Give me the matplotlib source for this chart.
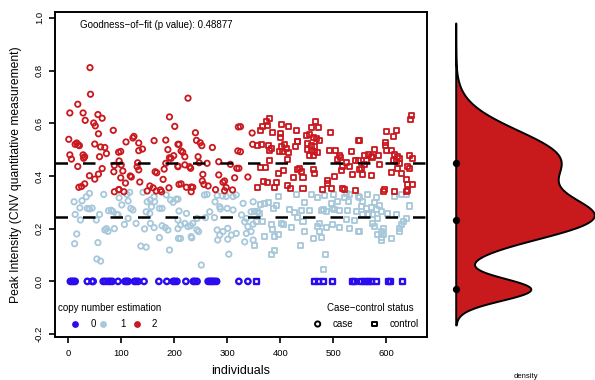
import numpy as np
import matplotlib
matplotlib.use("Agg")
import matplotlib.pyplot as plt

plt.rcParams['font.family'] = ['Liberation Sans', 'DejaVu Sans']

# individuals 1..n_cases are cases (circles), the rest controls (squares)
n_cases = 350

# copy number 2 (red)
cn2_ind = [41, 42, 18, 3, 28, 56, 32, 64, 48, 51, 57, 85, 1, 13, 16, 19, 21, 50, 61, 69,
           3, 6, 28, 31, 29, 72, 59, 95, 18, 64, 57, 87, 86, 40, 50, 31, 25, 20, 87, 95,
           191, 201, 124, 122, 109, 133, 140, 133, 162, 184, 188, 207, 99, 199, 194, 191,
           96, 100, 103, 131, 130, 133, 184, 181, 207, 164, 167, 179, 99, 117, 119, 108,
           135, 154, 160, 96, 105, 149, 166, 174, 176, 190, 209,
           226, 321, 240, 242, 249, 252, 272, 209, 213, 216, 220, 245, 320, 207, 220, 229,
           231, 247, 262, 284, 306, 318, 254, 253, 284, 292, 295, 314, 213, 223, 232, 235,
           232, 264, 278, 298, 295, 310, 256,
           325, 347, 325, 322, 357, 348, 339,
           379, 374, 366, 363, 376, 386, 403, 416, 400, 401, 430, 358, 364, 378, 383, 380,
           402, 408, 411, 404, 399, 415, 413, 432, 428, 379, 362, 372, 396, 406, 432, 426,
           369, 376, 393, 389, 413, 420,
           466, 459, 472, 494, 449, 455, 462, 468, 474, 433, 452, 459, 464, 452, 459, 465,
           471, 455, 463, 493, 504, 512, 514, 508, 535, 548, 525, 518, 515, 531, 537, 542,
           437, 440, 463, 465, 443, 503, 490, 489, 443, 479, 496, 518, 521, 542,
           647, 645, 601, 620, 614, 550, 599, 599, 601, 578, 586, 566, 559, 572, 575, 562,
           610, 616, 622, 625, 613, 619, 644, 649, 547, 553, 550, 559, 587, 625, 641, 644,
           610, 628, 622, 556, 572, 638, 641, 650, 597, 594, 616, 638, 641]
cn2_val = [.811, .710, .672, .639, .639, .633, .611, .619, .601, .590, .560, .573, .539, .52, .525, .518, .515, .521, .51, .508,
           .48, .464, .48, .473, .467, .485, .473, .49, .436, .428, .407, .44, .416, .401, .388, .37, .36, .357, .34, .348,
           .624, .588, .55, .544, .529, .525, .502, .496, .534, .536, .5, .52, .493, .477, .467, .469,
           .457, .442, .419, .45, .435, .423, .448, .426, .435, .416, .412, .387, .393, .40, .396, .373,
           .377, .362, .355, .348, .34, .343, .343, .347, .34, .355, .368,
           .695, .586, .564, .535, .526, .515, .508, .52, .495, .49, .473, .473, .495, .438, .442, .435,
           .429, .45, .448, .454, .444, .429, .406, .381, .404, .376, .381, .393, .37, .357, .358, .357,
           .34, .362, .348, .356, .344, .347, .368,
           .587, .563, .492, .429, .356, .52, .396,
           .619, .606, .587, .571, .591, .565, .597, .589, .562, .545, .571, .515, .52, .517, .505, .495,
           .511, .52, .505, .492, .492, .49, .463, .53, .511, .459, .431, .431, .41, .419, .423, .393,
           .378, .376, .376, .357, .363, .353,
           .608, .583, .583, .565, .555, .558, .545, .543, .533, .53, .524, .515, .511, .502, .495, .492,
           .488, .479, .477, .495, .498, .477, .469, .464, .492, .533, .452, .435, .419, .435, .404, .457,
           .429, .416, .423, .409, .393, .397, .381, .372, .353, .35, .353, .353, .347, .343,
           .631, .615, .568, .571, .549, .533, .527, .515, .498, .502, .479, .482, .477, .473, .469, .459,
           .495, .482, .473, .467, .46, .454, .479, .467, .457, .429, .423, .442, .442, .448, .435, .429,
           .414, .41, .429, .404, .401, .385, .368, .366, .35, .34, .34, .34, .343]

# copy number 1 (light blue)
cn1_ind = [11, 26, 34, 40, 22, 36, 40, 45, 67, 13, 23, 59, 53, 81, 84, 76, 92, 72, 69, 75,
           87, 16, 12, 56, 54, 61,
           116, 111, 96, 141, 149, 155, 162, 163, 157, 185, 193, 204, 198, 101, 113, 118,
           122, 147, 154, 172, 177, 94, 113, 106, 128, 144, 155, 162, 177, 183, 188, 207,
           172, 137, 147, 191, 208,
           257, 262, 281, 291, 298, 311, 317, 207, 277, 286, 287, 300, 311, 209, 223, 207,
           212, 220, 226, 231, 235, 243, 259, 267, 276, 243, 246, 281, 286, 292, 301, 308,
           317, 212, 232, 233, 282, 301, 303, 251,
           330, 349, 363, 371, 377, 397, 388, 393, 418, 430, 427, 327, 336, 345, 352, 358,
           361, 333, 339, 349, 355, 367, 383, 386, 402, 407, 422, 336, 345, 371, 389, 396,
           349, 333, 352, 389, 383,
           459, 471, 484, 501, 525, 531, 446, 496, 509, 521, 528, 547, 440, 455, 477, 481,
           487, 499, 503, 512, 527, 544, 443, 525, 540, 433, 474, 471, 487, 499, 512, 531,
           547, 446, 474, 477, 462, 438, 485, 481,
           565, 550, 556, 581, 578, 587, 616, 628, 638, 644, 553, 562, 572, 581, 591, 556,
           566, 575, 603, 619, 584, 550, 638, 632, 628, 625, 625, 610, 575, 578, 594, 591,
           594, 584, 591, 591]
cn1_val = [.302, .306, .321, .334, .279, .277, .275, .278, .33, .254, .233, .254, .233, .27, .265, .268, .254, .2, .195, .19,
           .2, .18, .143, .147, .085, .077,
           .338, .33, .317, .338, .302, .309, .321, .302, .283, .328, .309, .312, .3, .29, .305, .277,
           .271, .264, .258, .277, .277, .252, .239, .216, .22, .199, .22, .204, .211, .204, .195, .2,
           .166, .134, .13, .119, .163,
           .328, .33, .326, .324, .322, .322, .328, .312, .302, .283, .275, .277, .271, .267, .258, .233,
           .214, .22, .208, .211, .22, .239, .242, .264, .242, .195, .189, .195, .176, .189, .201, .176,
           .182, .163, .17, .165, .157, .16, .103, .062,
           .296, .302, .29, .296, .3, .321, .275, .287, .271, .328, .262, .252, .239, .264, .264, .264,
           .258, .226, .208, .217, .229, .226, .214, .195, .22, .217, .204, .182, .189, .17, .17, .176,
           .157, .15, .138, .119, .103,
           .328, .318, .325, .328, .334, .328, .3, .296, .302, .318, .302, .321, .27, .268, .27, .272,
           .266, .275, .271, .268, .27, .265, .226, .233, .23, .242, .22, .208, .204, .214, .204, .201,
           .189, .189, .189, .166, .163, .138, .103, .046,
           .328, .318, .302, .318, .3, .287, .321, .328, .328, .286, .283, .277, .279, .271, .264, .254,
           .254, .252, .258, .252, .237, .189, .239, .226, .214, .201, .189, .163, .22, .208, .201, .189,
           .176, .176, .166, .157]

# copy number 0 (blue)
cn0_ind = [4, 7, 10, 13, 36, 45, 47, 66, 70, 75, 79, 83, 94, 107, 110, 113, 125, 128, 132,
           143, 171, 186, 198, 201, 205, 222, 236, 239, 243, 264, 267, 270, 273, 276, 280,
           322, 339, 356,
           465, 473, 482, 499, 537, 541, 554, 560, 567, 573, 582, 604, 608, 631]
cn0_val = [0.0] * len(cn0_ind)

# fitted cluster means (dashed lines / dots on density)
cluster_means = [0.0, 0.245, 0.448]
p_value = 0.48877

# fitted mixture model shown in the side panel
mix_weight = [0.13, 0.405, 0.465]
mix_mean = [0.0, 0.25, 0.462]
mix_sd = [0.04, 0.075, 0.104]
dens_range = (-0.127, 0.948)

col_cn = {0: '#2b0bf0', 1: '#a7c7da', 2: '#c9181e'}
dens_fill = '#c8191c'

fig = plt.figure(figsize=(5.95, 3.8), dpi=100)
W, H = 595, 380
ax = fig.add_axes([55 / W, (H - 337) / H, 372 / W, 325 / H])

groups = [(cn0_ind, cn0_val, 0), (cn1_ind, cn1_val, 1), (cn2_ind, cn2_val, 2)]
for ind, val, cn in groups:
    ind = np.array(ind)
    val = np.array(val)
    case = ind <= n_cases
    lw = 1.7 if cn == 0 else 1.3
    ax.scatter(ind[case], val[case], s=15, marker='o', facecolors='none',
               edgecolors=col_cn[cn], linewidths=lw, zorder=3)
    ax.scatter(ind[~case], val[~case], s=13, marker='s', facecolors='none',
               edgecolors=col_cn[cn], linewidths=lw, zorder=3)

for m in cluster_means[1:]:
    ax.axhline(m, color='black', lw=1.8, ls=(0, (5, 6)), zorder=4)

ax.set_xlim(-25, 677)
ax.set_ylim(-0.211, 1.022)
ax.set_xticks([0, 100, 200, 300, 400, 500, 600])
ax.set_yticks([-0.2, 0.0, 0.2, 0.4, 0.6, 0.8, 1.0])
ax.set_yticklabels(['-0.2', '0.0', '0.2', '0.4', '0.6', '0.8', '1.0'], rotation=90, va='center')
ax.tick_params(axis='both', labelsize=6.8, length=4, width=1.2, direction='out')
ax.tick_params(axis='x', pad=5)
ax.tick_params(axis='y', pad=4)
for sp in ax.spines.values():
    sp.set_linewidth(1.4)
ax.set_xlabel('individuals', fontsize=9, labelpad=5)
ax.set_ylabel('Peak Intensity (CNV quantitative measurement)', fontsize=8.7, labelpad=9)

ax.text(0.067, 0.96, 'Goodness\u2212of\u2212fit (p value): %.5f' % p_value,
        transform=ax.transAxes, fontsize=7, va='center', ha='left')

# legend: copy number estimation
ax.text(0.007, 0.09, 'copy number estimation', transform=ax.transAxes, fontsize=7, va='center')
for cn, xm, xt in [(0, 0.054, 0.102), (1, 0.129, 0.183), (2, 0.22, 0.266)]:
    ax.scatter([xm], [0.04], s=15, marker='o', color=col_cn[cn], transform=ax.transAxes, clip_on=False)
    ax.text(xt, 0.04, str(cn), transform=ax.transAxes, fontsize=7, va='center', ha='center')

# legend: case-control status
ax.text(0.965, 0.09, 'Case\u2212control status', transform=ax.transAxes, fontsize=7, va='center', ha='right')
ax.scatter([0.706], [0.04], s=14, marker='o', facecolors='none', edgecolors='black',
           linewidths=1.4, transform=ax.transAxes)
ax.text(0.747, 0.04, 'case', transform=ax.transAxes, fontsize=7, va='center')
ax.scatter([0.858], [0.04], s=12, marker='s', facecolors='none', edgecolors='black',
           linewidths=1.4, transform=ax.transAxes)
ax.text(0.9, 0.04, 'control', transform=ax.transAxes, fontsize=7, va='center')

# side panel: density of the fitted gaussian mixture
grid = np.linspace(dens_range[0], dens_range[1], 600)
dens = np.zeros_like(grid)
for w, mu, sd in zip(mix_weight, mix_mean, mix_sd):
    dens += w * np.exp(-0.5 * ((grid - mu) / sd) ** 2) / (sd * np.sqrt(2 * np.pi))

axd = fig.add_axes([455.7 / W, (H - 337) / H, (W - 455.7) / W, 325 / H])
axd.fill_betweenx(grid, 0, dens, facecolor=dens_fill, edgecolor='black', lw=1.4, clip_on=False)
axd.scatter([0] * len(cluster_means), cluster_means, s=18, color='black', zorder=3, clip_on=False)
axd.set_xlim(0, dens.max() * 1.005)
axd.set_ylim(-0.17, 0.987)
axd.axis('off')
fig.text(526 / W, 1 - 376 / H, 'density', fontsize=5.5, ha='center', va='center')

fig.savefig('out.png', dpi=100)
